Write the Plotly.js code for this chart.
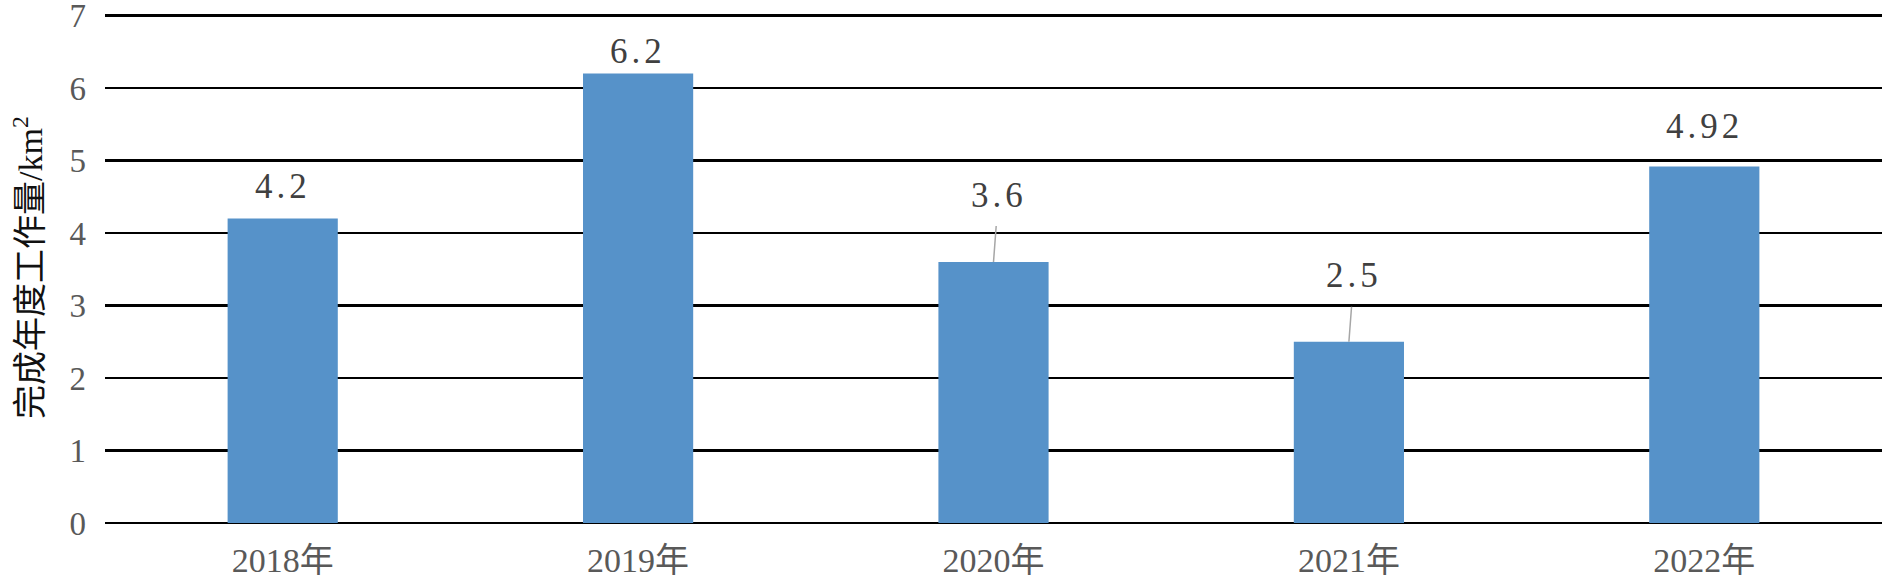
<!DOCTYPE html>
<html>
<head>
<meta charset="utf-8">
<script src="https://cdn.plot.ly/plotly-3.0.1.min.js"></script>
<style>
html,body{margin:0;padding:0;background:#fff;}
#chart{width:1891px;height:579px;}
#chart .annotation-text{letter-spacing:4px;}
</style>
</head>
<body>
<div id="chart"></div>
<script>
const categories = ["2018年", "2019年", "2020年", "2021年", "2022年"];
const values = [4.2, 6.2, 3.6, 2.5, 4.92];
const valueLabels = ["4.2", "6.2", "3.6", "2.5", "4.92"];
const yTicks = [0, 1, 2, 3, 4, 5, 6, 7];
const yTitle = "完成年度工作量/km<sup>2</sup>";

const serif = "'Liberation Serif', 'Noto Sans CJK SC', serif";

const labelOffsets = [-32, -22, -67, -66, -40];
const leader = [false, false, true, true, false];

const annotations = categories.map((c, i) => ({
  x: c, y: values[i], xref: 'x', yref: 'y',
  text: valueLabels[i],
  showarrow: leader[i],
  arrowhead: 0, arrowwidth: 1.5, arrowcolor: '#a6a6a6',
  ax: leader[i] ? 5 : 0, ay: labelOffsets[i],
  startstandoff: leader[i] ? 10 : 0,
  yshift: leader[i] ? 0 : -labelOffsets[i],
  font: {family: serif, size: 35, color: '#404040'}
}));

const trace = {
  type: 'bar', x: categories, y: values,
  marker: {color: '#5692C9'},
  hoverinfo: 'none'
};

const layout = {
  width: 1891, height: 579,
  margin: {l: 105, r: 9, t: 12, b: 56},
  paper_bgcolor: '#fff', plot_bgcolor: '#fff',
  showlegend: false,
  bargap: 0.69,
  xaxis: {
    type: 'category',
    showgrid: false, showline: false, zeroline: false,
    ticks: '', ticklabelstandoff: 14, ticklabeloverflow: 'allow',
    tickfont: {family: serif, size: 34, color: '#595959'}
  },
  yaxis: {
    range: [0, 7.05], tickvals: yTicks,
    showgrid: true, gridcolor: '#000', gridwidth: 2.5,
    zeroline: true, zerolinecolor: '#000', zerolinewidth: 2.5,
    showline: false, ticks: '', ticklabelstandoff: 18, ticklabeloverflow: 'allow',
    tickfont: {family: serif, size: 33, color: '#595959'},
    title: {text: yTitle, standoff: 16, font: {family: serif, size: 34, color: '#111'}}
  },
  annotations: annotations
};

Plotly.newPlot('chart', [trace], layout, {displayModeBar: false, staticPlot: true});
</script>
</body>
</html>
